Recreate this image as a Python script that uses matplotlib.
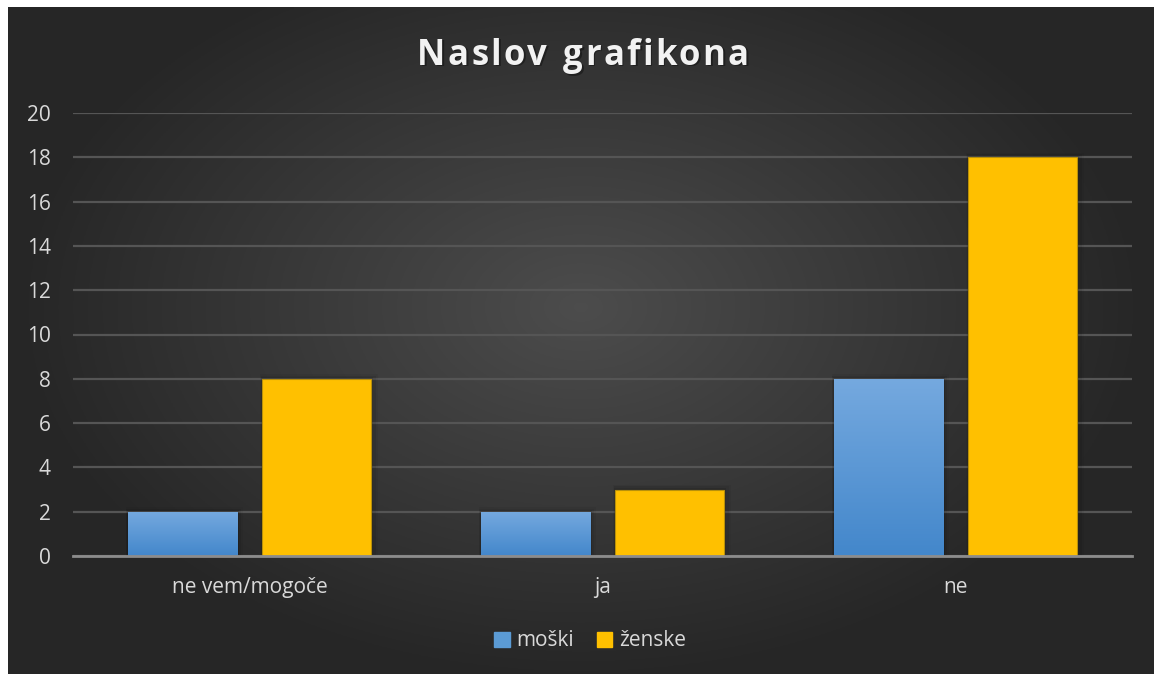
import numpy as np
import matplotlib.pyplot as plt
from matplotlib.patches import Rectangle

# data
categories = ["ne vem/mogoče", "ja", "ne"]
moski = [2, 2, 8]
zenske = [8, 3, 18]
series_names = ["moški", "ženske"]
yticks = [0, 2, 4, 6, 8, 10, 12, 14, 16, 18, 20]
title = "Naslov grafikona"

W, H = 1154, 674
fig = plt.figure(figsize=(W / 100, H / 100), dpi=100, facecolor="white")

# dark radial background panel
bg = fig.add_axes([8 / W, 0, 1 - 8 / W, 1 - 7 / H])
bg.set_axis_off()
yy, xx = np.mgrid[0:1:300j, 0:1:500j]
r = np.sqrt(((xx - 0.5) / 0.75) ** 2 + ((yy - 0.45) / 0.85) ** 2)
shade = np.clip(0.30 - 0.16 * r / 0.7, 0.15, 0.30)
bg.imshow(np.dstack([shade, shade, shade]), extent=[0, 1, 0, 1], aspect="auto")

# plot area: x 73..1132, y 113..556
ax = fig.add_axes([73 / W, 1 - 556 / H, (1132 - 73) / W, (556 - 113) / H])
ax.patch.set_alpha(0)

x = np.arange(len(categories))
bw = 0.31
off = 0.19
txt = "#d9d9d9"
font = "Open Sans"

blue_bars = ax.bar(x - off, moski, bw, color="#5b9bd5", zorder=3)
gold_bars = ax.bar(x + off, zenske, bw, color="#ffc000", edgecolor="#b8900a", linewidth=0.8, zorder=3)

# vertical gradient on blue bars
grad = np.linspace(0, 1, 100).reshape(-1, 1)
top = np.array([0x75, 0xa9, 0xdf]) / 255
bot = np.array([0x43, 0x87, 0xcb]) / 255
for b in blue_bars:
    img = bot + (top - bot) * grad[..., None]
    im = ax.imshow(img, extent=[b.get_x(), b.get_x() + b.get_width(), 0, b.get_height()],
                   origin="lower", aspect="auto", zorder=3.5)
    im.set_clip_path(b)

# soft shadows
for b in list(blue_bars) + list(gold_bars):
    for k, a in enumerate([0.10, 0.07, 0.04]):
        d = 0.006 * (k + 1)
        ax.add_patch(Rectangle((b.get_x() - d * 0.3, 0), b.get_width() + d * 1.3, b.get_height() + d * 12,
                               color="black", alpha=a, zorder=2, linewidth=0))

ax.set_xlim(-0.5, 2.5)
ax.set_ylim(0, 20)
ax.set_yticks(yticks)
ax.yaxis.grid(True, color="#555555", linewidth=1.6, zorder=1)
ax.set_axisbelow(True)
for s in ["top", "right", "left"]:
    ax.spines[s].set_visible(False)
ax.spines["bottom"].set_color("#8c8c8c")
ax.spines["bottom"].set_linewidth(2)
ax.spines["bottom"].set_zorder(4)
ax.set_xticks(x)
ax.set_xticklabels(categories)
ax.tick_params(axis="both", length=0, colors=txt, labelsize=15)
ax.tick_params(axis="x", pad=15)
ax.tick_params(axis="y", pad=16)
for lab in ax.get_xticklabels() + ax.get_yticklabels():
    lab.set_fontfamily(font)
    lab.set_color(txt)

# letter-spaced title, centred at x=583
renderer = fig.canvas.get_renderer()
spacing = 2.3
tfs = 25
widths = []
for ch in title:
    t = fig.text(0, 0, ch if ch != " " else "n", fontsize=tfs, fontweight="bold", family=font)
    w = t.get_window_extent(renderer).width
    if ch == " ":
        w *= 0.5
    widths.append(w)
    t.remove()
total = sum(widths) + spacing * (len(title) - 1)
xpos = 583 - total / 2
for ch, w in zip(title, widths):
    if ch != " ":
        fig.text((xpos + 1.5) / W, 1 - 57.5 / H, ch, ha="left", va="center", fontsize=tfs,
                 fontweight="bold", color="black", alpha=0.35, family=font)
        fig.text(xpos / W, 1 - 56 / H, ch, ha="left", va="center", fontsize=tfs,
                 fontweight="bold", color="#f2f2f2", family=font)
    xpos += w + spacing

handles = [Rectangle((0, 0), 1, 1, color="#5b9bd5"), Rectangle((0, 0), 1, 1, color="#ffc000")]
leg = fig.legend(handles, series_names, loc="center", bbox_to_anchor=(590 / W, 1 - 641 / H),
                 ncol=2, frameon=False, handlelength=0.75, handleheight=0.75, handletextpad=0.3,
                 columnspacing=1.1, prop={"family": font, "size": 15})
for t in leg.get_texts():
    t.set_color(txt)

fig.savefig("out.png", dpi=100, facecolor="white")
